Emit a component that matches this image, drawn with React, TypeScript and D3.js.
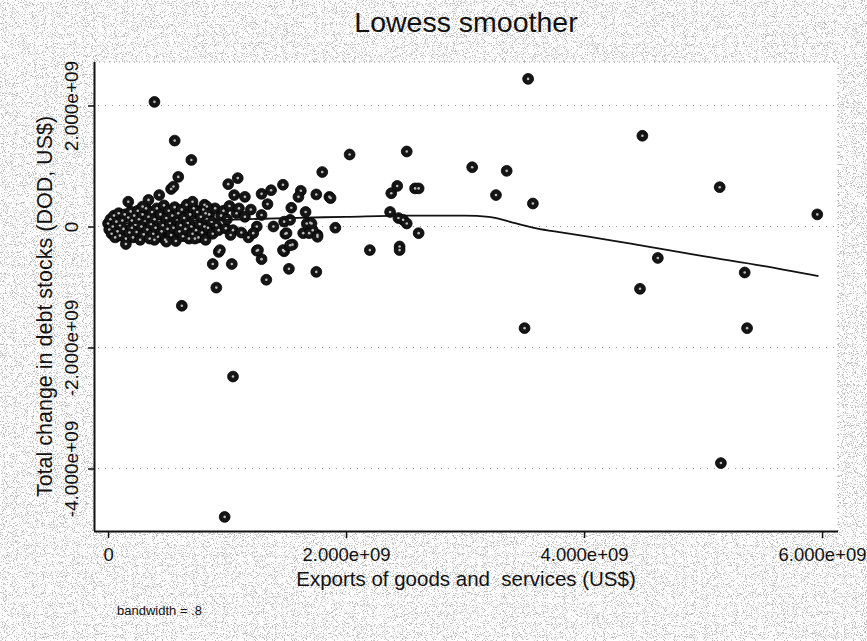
import React, { useEffect, useRef } from 'react';
import * as d3 from 'd3';

// values in units of 1e9 US$
const exportsBn = [
  // dense cluster near the origin
  0.0, 0.01, 0.02, 0.03, 0.04, 0.05, 0.06, 0.07, 0.08, 0.09, 0.1, 0.1,
  0.12, 0.13, 0.14, 0.15, 0.16, 0.17, 0.18, 0.19, 0.2, 0.2,
  0.21, 0.22, 0.23, 0.24, 0.25, 0.26, 0.27, 0.28, 0.29, 0.3,
  0.31, 0.32, 0.33, 0.34, 0.35, 0.36, 0.37, 0.38, 0.39, 0.4,
  0.41, 0.42, 0.43, 0.44, 0.45, 0.46, 0.47, 0.48, 0.49, 0.5,
  0.51, 0.52, 0.53, 0.54, 0.55, 0.56, 0.57, 0.58, 0.59, 0.6,
  0.61, 0.62, 0.63, 0.64, 0.65, 0.66, 0.67, 0.68, 0.69, 0.7,
  0.71, 0.72, 0.73, 0.74, 0.75, 0.76, 0.77, 0.78, 0.79, 0.8, 0.81, 0.82, 0.83, 0.84, 0.85,
  0.87, 0.88, 0.9, 0.91, 0.93, 0.95, 0.97, 0.99, 1.0, 1.02, 1.05, 1.03, 1.08, 1.1, 1.12, 1.15, 1.18, 1.2,
  // scattered points
  0.15, 0.17, 0.39, 0.56, 0.7, 0.59, 0.53, 0.55, 0.34, 0.43, 0.29, 0.71, 0.81,
  0.39, 0.49, 0.73, 0.93, 0.88, 1.04, 0.91, 0.62, 0.98, 1.05,
  1.01, 1.09, 1.06, 1.15, 1.29, 1.37, 1.47, 1.62, 1.6, 1.8, 1.75, 1.86, 2.03,
  1.34, 1.54, 1.66, 1.91, 1.25, 1.29, 1.33, 1.52, 1.75, 1.48, 1.55, 1.49, 1.64, 1.76, 1.7,
  0.83, 0.82, 1.29, 1.25, 1.22, 1.39, 1.48, 1.53, 1.5, 1.67, 1.72, 1.69, 0.94, 1.26, 1.47, 1.53,
  1.87, 1.71, 1.76, 2.2, 2.45, 2.45, 2.37, 2.38, 2.43, 2.58, 2.61, 2.44, 2.48, 2.51, 2.61,
  3.53, 2.51, 3.06, 3.35, 3.26, 3.57, 3.5,
  4.49, 5.14, 5.96, 4.62, 5.35, 4.47, 5.37, 5.15,
];

const debtChangeBn = [
  0.05, -0.05, 0.12, -0.12, 0.0, 0.18, -0.18, 0.08, -0.08, 0.22, 0.02, -0.15,
  0.1, -0.04, 0.2, -0.2, 0.05, 0.15, -0.1, 0.25, -0.02, 0.1,
  -0.18, 0.18, 0.03, -0.09, 0.26, 0.12, -0.22, 0.0, 0.2, -0.13,
  0.08, 0.3, -0.05, 0.16, -0.2, 0.04, 0.24, -0.12, 0.12, -0.02,
  0.3, -0.17, 0.08, 0.2, -0.08, 0.02, 0.35, -0.22, 0.14, -0.04,
  0.26, 0.06, -0.14, 0.18, -0.02, 0.32, -0.24, 0.1, 0.22, -0.08,
  0.02, 0.28, -0.16, 0.14, -0.04, 0.36, 0.06, -0.2, 0.2, 0.0,
  -0.12, 0.3, 0.1, -0.06, 0.24, -0.18, 0.04, 0.16, -0.1, 0.28, 0.0, -0.22, 0.12, -0.02, 0.2,
  0.08, -0.12, 0.3, 0.02, -0.06, 0.18, 0.26, -0.03, 0.12, 0.34, -0.06, -0.14, 0.22, 0.3, -0.1, 0.16, -0.18, 0.28,
  -0.29, 0.41, 2.06, 1.42, 1.1, 0.82, 0.62, 0.66, 0.44, 0.52, 0.33, 0.41, 0.36,
  -0.22, -0.25, -0.2, -0.42, -0.62, -0.62, -1.01, -1.31, -4.8, -2.48,
  0.7, 0.8, 0.52, 0.49, 0.54, 0.6, 0.69, 0.59, 0.49, 0.9, 0.53, 0.49, 1.19,
  0.37, 0.31, 0.24, -0.02, -0.4, -0.54, -0.88, -0.7, -0.75, -0.41, -0.3, -0.12, -0.11, -0.14, 0.06,
  0.33, 0.22, 0.19, 0.0, -0.11, 0.0, 0.08, 0.11, -0.11, 0.05, -0.06, -0.11, -0.39, -0.39, -0.39, -0.31,
  0.47, 0.05, -0.17, -0.39, -0.33, -0.39, 0.24, 0.55, 0.67, 0.63, 0.63, 0.14, 0.11, 0.05, -0.11,
  2.44, 1.24, 0.98, 0.92, 0.52, 0.38, -1.68,
  1.5, 0.65, 0.2, -0.52, -0.76, -1.03, -1.68, -3.91,
];

// lowess fit (bandwidth .8)
const lowessX = [0.02, 0.5, 1.0, 1.5, 2.0, 2.5, 3.0, 3.2, 3.43, 3.6, 3.82, 4.05, 4.5, 5.0, 5.5, 5.97];
const lowessY = [0.04, 0.08, 0.11, 0.14, 0.16, 0.18, 0.18, 0.16, 0.05, -0.03, -0.1, -0.17, -0.32, -0.49, -0.65, -0.82];

const xTicks = [0, 2, 4, 6];
const xTickLabels = ['0', '2.000e+09', '4.000e+09', '6.000e+09'];
const yTicks = [-4, -2, 0, 2];
const yTickLabels = ['-4.000e+09', '-2.000e+09', '0', '2.000e+09'];

const LowessChart = () => {
  const ref = useRef<SVGSVGElement | null>(null);

  useEffect(() => {
    const width = 867;
    const height = 641;
    const left = 94, right = 838, top = 62, bottom = 531;
    const font = 'Liberation Sans, Arial, sans-serif';

    const svg = d3.select(ref.current);
    svg.selectAll('*').remove();

    // scanned-paper speckle outside the plot region
    const defs = svg.append('defs');
    const filt = defs.append('filter')
      .attr('id', 'speckle')
      .attr('filterUnits', 'userSpaceOnUse')
      .attr('x', 0).attr('y', 0).attr('width', width).attr('height', height);
    filt.append('feTurbulence')
      .attr('type', 'fractalNoise')
      .attr('baseFrequency', 0.9)
      .attr('numOctaves', 2)
      .attr('seed', 7);
    filt.append('feColorMatrix')
      .attr('type', 'matrix')
      .attr('values', '0 0 0 0 0.5  0 0 0 0 0.5  0 0 0 0 0.5  9 0 0 0 -4.9');

    svg.append('rect').attr('width', width).attr('height', height).attr('fill', '#fff');
    svg.append('rect').attr('width', width).attr('height', height).attr('filter', 'url(#speckle)');
    svg.append('rect')
      .attr('x', left).attr('y', top)
      .attr('width', right - left).attr('height', bottom - top)
      .attr('fill', '#fff');

    const x = d3.scaleLinear().domain([-0.118, 6.134]).range([left, right]);
    const y = d3.scaleLinear().domain([-5.033, 2.719]).range([bottom, top]);

    // faint dotted gridlines and frame
    svg.append('g')
      .selectAll('line')
      .data(yTicks)
      .join('line')
      .attr('x1', left + 4).attr('x2', right)
      .attr('y1', (d) => y(d)).attr('y2', (d) => y(d))
      .attr('stroke', '#9a9a9a')
      .attr('stroke-width', 1)
      .attr('stroke-dasharray', '1 6');
    svg.append('line')
      .attr('x1', left).attr('x2', right).attr('y1', top).attr('y2', top)
      .attr('stroke', '#888').attr('stroke-dasharray', '1 4');
    svg.append('line')
      .attr('x1', right).attr('x2', right).attr('y1', top).attr('y2', bottom)
      .attr('stroke', '#888').attr('stroke-dasharray', '1 5');

    // axes
    const xAxis = d3.axisBottom(x)
      .tickValues(xTicks)
      .tickSize(7)
      .tickPadding(10)
      .tickFormat((d, i) => xTickLabels[i]);
    const gx = svg.append('g').attr('transform', `translate(0,${bottom})`).call(xAxis);
    gx.select('.domain').attr('d', `M${left},0.5H${right}`).attr('stroke', '#111').attr('stroke-width', 2);
    gx.selectAll('.tick line').attr('stroke', '#111').attr('stroke-width', 1.5);
    gx.selectAll('.tick text')
      .attr('fill', '#111')
      .style('font-family', font)
      .style('font-size', '18.5px');

    const yAxis = d3.axisLeft(y)
      .tickValues(yTicks)
      .tickSize(6)
      .tickPadding(0)
      .tickFormat((d, i) => yTickLabels[i]);
    const gy = svg.append('g').attr('transform', `translate(${left},0)`).call(yAxis);
    gy.select('.domain').attr('d', `M0.5,${top}V${bottom}`).attr('stroke', '#111').attr('stroke-width', 2);
    gy.selectAll('.tick line').attr('stroke', '#111').attr('stroke-width', 1.5);
    gy.selectAll('.tick text')
      .attr('fill', '#111')
      .attr('x', 0)
      .attr('dy', 0)
      .attr('transform', 'translate(-16,0) rotate(-90)')
      .attr('text-anchor', 'middle')
      .style('font-family', font)
      .style('font-size', '19px');

    // scatter
    const pts = exportsBn.map((v, i) => ({ ex: v, dc: debtChangeBn[i] }));
    const g = svg.append('g');
    g.selectAll('circle.m')
      .data(pts)
      .join('circle')
      .attr('class', 'm')
      .attr('cx', (d) => x(d.ex))
      .attr('cy', (d) => y(d.dc))
      .attr('r', 5.4)
      .attr('fill', '#151515')
      .attr('stroke', '#000')
      .attr('stroke-width', 0.8);
    g.selectAll('circle.c')
      .data(pts)
      .join('circle')
      .attr('class', 'c')
      .attr('cx', (d) => x(d.ex))
      .attr('cy', (d) => y(d.dc))
      .attr('r', 1.3)
      .attr('fill', '#bbb');

    // lowess curve
    const line = d3.line<number>()
      .x((d) => x(d))
      .y((d, i) => y(lowessY[i]))
      .curve(d3.curveMonotoneX);
    svg.append('path')
      .attr('d', line(lowessX))
      .attr('fill', 'none')
      .attr('stroke', '#111')
      .attr('stroke-width', 1.8);

    // titles
    svg.append('text')
      .attr('x', (left + right) / 2)
      .attr('y', 32)
      .attr('text-anchor', 'middle')
      .style('font-family', font)
      .style('font-size', '28.5px')
      .attr('fill', '#111')
      .text('Lowess smoother');

    svg.append('text')
      .attr('x', (left + right) / 2)
      .attr('y', 586)
      .attr('text-anchor', 'middle')
      .style('font-family', font)
      .style('font-size', '20.5px')
      .style('white-space', 'pre')
      .attr('fill', '#111')
      .text('Exports of goods and  services (US$)');

    svg.append('text')
      .attr('transform', `translate(52,${(top + bottom) / 2 + 10}) rotate(-90)`)
      .attr('text-anchor', 'middle')
      .style('font-family', font)
      .style('font-size', '21.5px')
      .attr('fill', '#111')
      .text('Total change in debt stocks (DOD, US$)');

    svg.append('text')
      .attr('x', 117)
      .attr('y', 615)
      .style('font-family', font)
      .style('font-size', '13px')
      .attr('fill', '#111')
      .text('bandwidth = .8');
  }, []);

  return (
    <svg
      ref={ref}
      width={867}
      height={641}
      style={{ position: 'absolute', top: 0, left: 0, display: 'block' }}
    />
  );
};

export default function App() {
  return <LowessChart />;
}
